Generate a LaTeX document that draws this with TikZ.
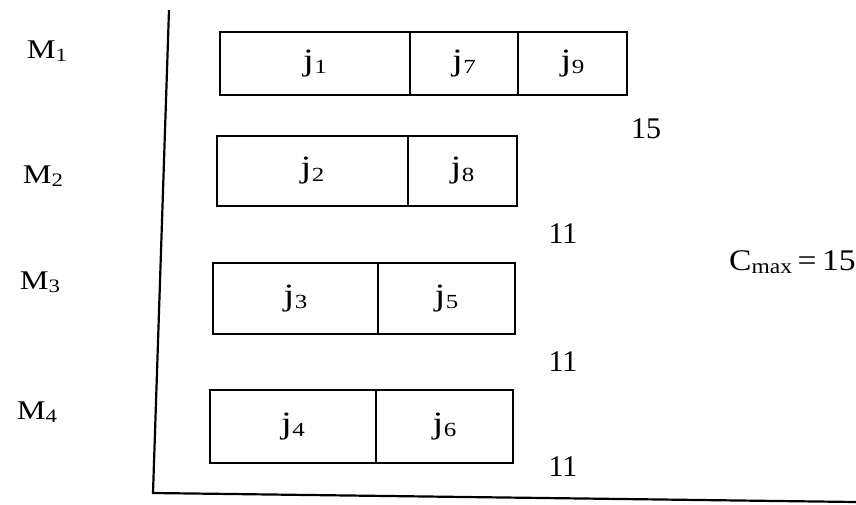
\documentclass[tikz,border=0pt]{standalone}
\usepackage{fontspec}
\setmainfont{Liberation Serif}
\newcommand\jlab[1]{\scalebox{1.25}[1]{{\fontsize{31}{31}\selectfont j}\kern0.3pt\raisebox{-3.5pt}{\fontsize{20}{20}\selectfont #1}}}
\newcommand\mlab[1]{\scalebox{1.2}[1]{{\fontsize{27}{27}\selectfont M}\raisebox{-2.5pt}{\fontsize{19}{19}\selectfont #1}}}
\tikzset{
  cell/.style={draw, line width=2pt, anchor=west, inner sep=0pt, outer sep=0pt},
  axisline/.style={line width=2.2pt},
  num/.style={font=\fontsize{30}{30}\selectfont, inner sep=0pt},
  mach/.style={inner sep=0pt},
}
\begin{document}
\begin{tikzpicture}[x=1pt,y=-1pt]
\useasboundingbox (0,0) rectangle (856,504);
\fill[white] (0,0) rectangle (856,504);
% axes
\coordinate (top) at (169,10);
\coordinate (corner) at (153,493);
\coordinate (rend) at (856,502);
\draw[axisline] (top) -- (corner) -- (rend);
% machine labels
\node[mach] (m1) at (47,51) {\mlab{1}};
\node[mach] (m2) at (43,176) {\mlab{2}};
\node[mach] (m3) at (40,282) {\mlab{3}};
\node[mach] (m4) at (37,412) {\mlab{4}};
% M1 row
\node[cell, minimum width=190pt, minimum height=63pt] (j1) at (220,63.5) {\jlab{1}};
\node[cell, minimum width=108pt, minimum height=63pt] (j7) at (j1.east) {\jlab{7}};
\node[cell, minimum width=109pt, minimum height=63pt] (j9) at (j7.east) {\jlab{9}};
% M2 row
\node[cell, minimum width=191pt, minimum height=70pt] (j2) at (217,171) {\jlab{2}};
\node[cell, minimum width=109pt, minimum height=70pt] (j8) at (j2.east) {\jlab{8}};
% M3 row
\node[cell, minimum width=165pt, minimum height=71pt] (j3) at (213,298.5) {\jlab{3}};
\node[cell, minimum width=137pt, minimum height=71pt] (j5) at (j3.east) {\jlab{5}};
% M4 row
\node[cell, minimum width=166pt, minimum height=73pt] (j4) at (210,426.5) {\jlab{4}};
\node[cell, minimum width=137pt, minimum height=73pt] (j6) at (j4.east) {\jlab{6}};
% completion times
\node[num] (t1) at (646,129) {15};
\node[num] (t2) at (563,234) {11};
\node[num] (t3) at (563,362) {11};
\node[num] (t4) at (563,467) {11};
% makespan
\node[inner sep=0pt, anchor=east] (cmax) at (856,262) {\scalebox{1.12}[1]{\fontsize{30}{30}\selectfont C\raisebox{-3pt}{\fontsize{21}{21}\selectfont max}\kern5pt=\kern5pt15}};
\end{tikzpicture}
\end{document}
